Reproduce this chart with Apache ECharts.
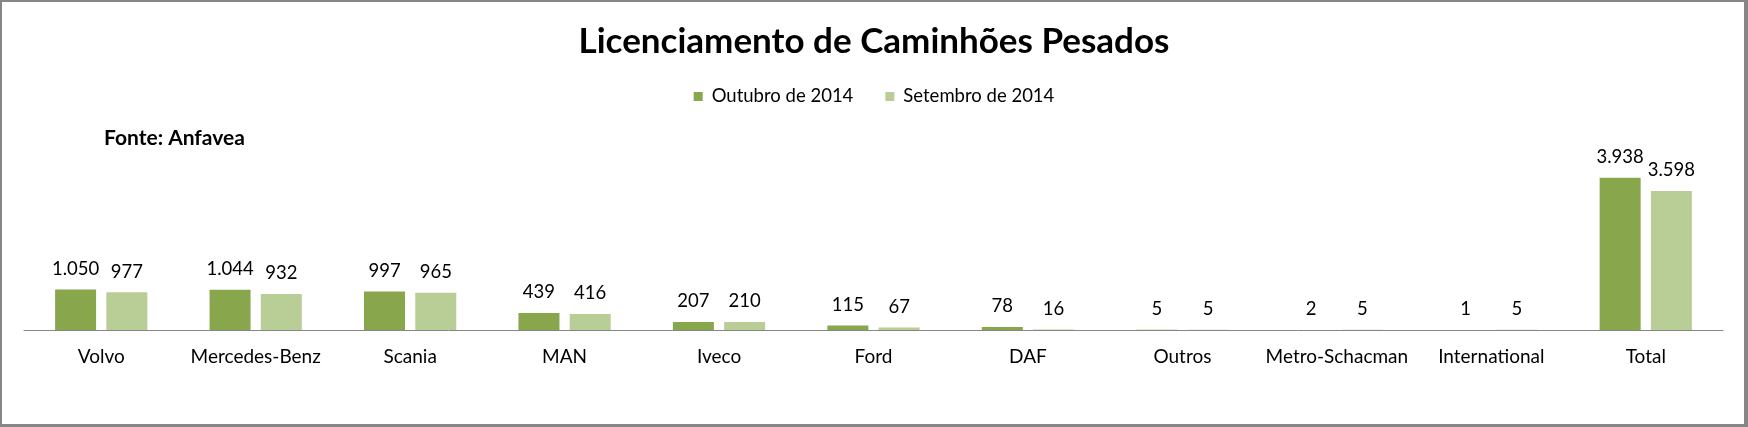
<!DOCTYPE html>
<html>
<head>
<meta charset="utf-8">
<script src="https://cdn.jsdelivr.net/npm/echarts@6/dist/echarts.min.js"></script>
<style>
  html, body { margin: 0; padding: 0; background: #fff; }
  #wrap { position: relative; width: 1748px; height: 427px; }
  #chart { position: absolute; left: 0; top: 0; width: 1748px; height: 427px; }
  #frame { position: absolute; left: 0; top: 0; width: 1748px; height: 427px; box-sizing: border-box;
           border-style: solid; border-color: #868686; border-width: 2px 4px 3px 2px; pointer-events: none; }
</style>
</head>
<body>
<div id="wrap"><div id="chart"></div><div id="frame"></div></div>
<script>
const categories = ['Volvo', 'Mercedes-Benz', 'Scania', 'MAN', 'Iveco', 'Ford', 'DAF', 'Outros', 'Metro-Schacman', 'International', 'Total'];
const outubro2014 = [1050, 1044, 997, 439, 207, 115, 78, 5, 2, 1, 3938];
const setembro2014 = [977, 932, 965, 416, 210, 67, 16, 5, 5, 5, 3598];
const seriesNames = ['Outubro de 2014', 'Setembro de 2014'];
const titleText = 'Licenciamento de Caminhões Pesados';
const sourceText = 'Fonte: Anfavea';

const FONT = 'Lato, "Open Sans", sans-serif';
const fmt = v => String(v).replace(/\B(?=(\d{3})+(?!\d))/g, '.');

const chart = echarts.init(document.getElementById('chart'), null, { renderer: 'canvas' });
const labelCfg = {
  show: true, position: 'top', distance: 11,
  color: '#000', fontFamily: FONT, fontSize: 18.5,
  formatter: p => fmt(p.value)
};
chart.setOption({
  animation: false,
  backgroundColor: '#fff',
  title: [{
    text: titleText, left: 'center', top: 21, padding: 0,
    textStyle: { fontFamily: FONT, fontWeight: 'bold', fontSize: 35, lineHeight: 42, color: '#000' }
  }, {
    text: sourceText, left: 104, top: 126, padding: 0,
    textStyle: { fontFamily: FONT, fontWeight: 'bold', fontSize: 21, lineHeight: 24, color: '#000' }
  }],
  legend: {
    data: seriesNames, left: 'center', top: 87, padding: 0,
    itemWidth: 9, itemHeight: 9, itemGap: 32, icon: 'rect',
    textStyle: { fontFamily: FONT, fontSize: 18.5, color: '#000', padding: [0, 0, 0, 4] }
  },
  grid: { left: 24, right: 25, top: 156, bottom: 97, containLabel: false },
  xAxis: {
    type: 'category', data: categories,
    axisLine: { lineStyle: { color: '#868686', width: 1 } },
    axisTick: { show: false },
    axisLabel: { fontFamily: FONT, fontSize: 19, color: '#000', margin: 17, interval: 0 }
  },
  yAxis: { type: 'value', min: 0, max: 4500, show: false, splitLine: { show: false } },
  series: [
    { name: seriesNames[0], type: 'bar', data: outubro2014, barWidth: 41, barGap: '25%',
      itemStyle: { color: '#88A64C' }, label: labelCfg },
    { name: seriesNames[1], type: 'bar', data: setembro2014, barWidth: 41, barGap: '25%',
      itemStyle: { color: '#B9CE97' }, label: labelCfg }
  ]
});
</script>
</body>
</html>
